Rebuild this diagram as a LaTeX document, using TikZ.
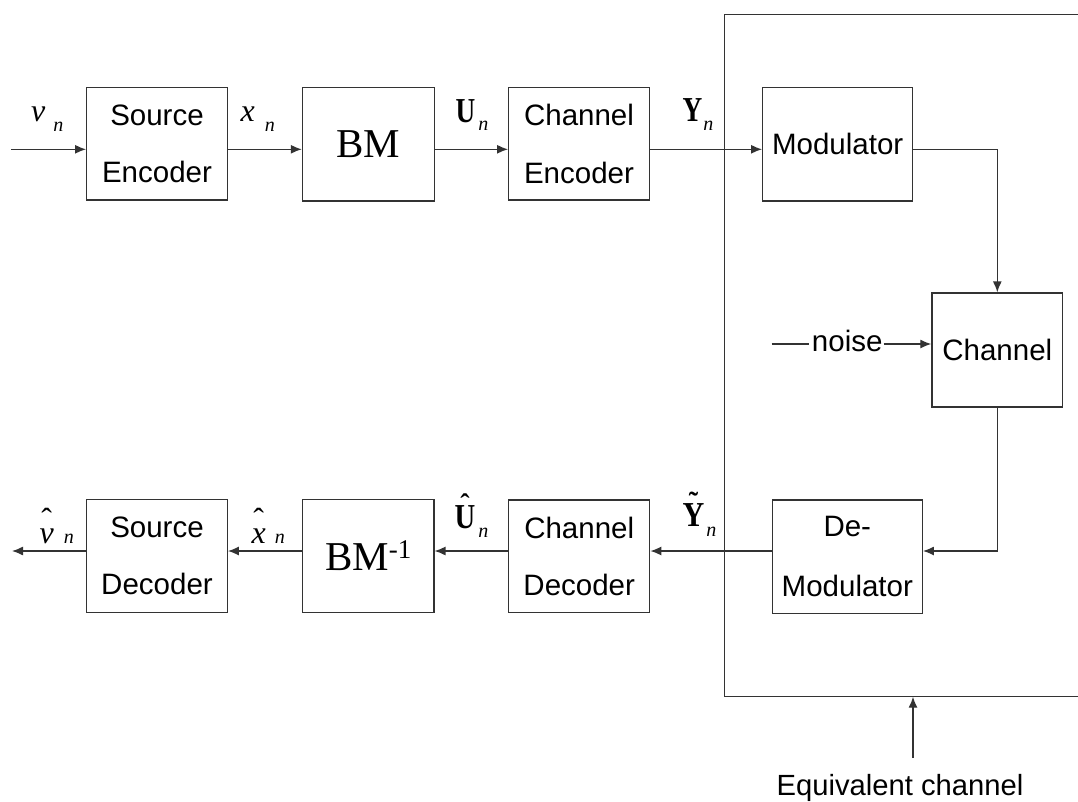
\documentclass[tikz,border=0pt]{standalone}
\usepackage{fontspec}
\setmainfont{Liberation Serif}
\setsansfont{Liberation Sans}
\usetikzlibrary{arrows.meta}

% block text and symbol sizes (1pt = 1 unit of the drawing)
\newcommand\blkfont{\sffamily\fontsize{29.5}{57.5}\selectfont}
\newcommand\symfont{\fontsize{32}{32}\selectfont}
\newcommand\bsymfont{\fontsize{35}{35}\selectfont}
% lowered italic subscript n
\newcommand\subn[1]{\raisebox{#1}{\fontsize{20}{20}\selectfont\itshape n}}
% put an accent #2 above the glyph #1, lifted by #3
\newcommand\accon[3]{\leavevmode\setbox0\hbox{#1}\rlap{\hbox to\wd0{\hss\raisebox{#3}{#2}\hss}}\box0}
% narrowed bold capital
\newcommand\nbold[2]{\scalebox{#1}[1]{\bfseries\bsymfont #2}}

\begin{document}
\begin{tikzpicture}[x=1pt,y=-1pt,
  blk/.style={draw=black!80, line width=1.3pt, inner sep=0pt, align=center,
              font=\blkfont, text=black},
  wire/.style={draw=black!80, line width=1.3pt},
  arr/.style={wire, -{Latex[length=11pt,width=9pt]}},
  lbl/.style={inner sep=0pt, anchor=base west, font=\symfont}]
\useasboundingbox (0,0) rectangle (1078,801);

% levels of the forward and return paths
\coordinate (in)  at (11,149.3);
\coordinate (out) at (12,551);

% forward chain
\node[blk, minimum width=140.6pt, minimum height=112.7pt] (se) at (157,143.7) {Source\\Encoder};
\node[blk, minimum width=131.7pt, minimum height=113.7pt, font=\fontsize{41}{41}\selectfont] (bm) at (368.3,144.2) {BM};
\node[blk, minimum width=140.6pt, minimum height=112.7pt] (ce) at (579,143.7) {Channel\\Encoder};
\node[blk, minimum width=150pt, minimum height=113.3pt] (mod) at (837.7,144.3) {Modulator};
\node[blk, minimum width=130.7pt, minimum height=114pt] (ch) at (997.3,350) {Channel};

% return chain
\node[blk, minimum width=150pt, minimum height=113.3pt, font=\sffamily\fontsize{29.5}{60}\selectfont] (dm) at (847.3,556.7) {De-\\Modulator};
\node[blk, minimum width=141pt, minimum height=112.7pt] (cd) at (579.2,556.4) {Channel\\Decoder};
\node[blk, minimum width=131.2pt, minimum height=113.4pt, font=\fontsize{41}{41}\selectfont] (bmi) at (368.3,556)
  {BM\raisebox{12pt}{\fontsize{27}{27}\selectfont -1}};
\node[blk, minimum width=140.5pt, minimum height=113.4pt] (sd) at (157,556) {Source\\Decoder};

% equivalent channel frame, open to the right
\coordinate (tl) at (724.3,14.7);
\coordinate (bl) at (724.3,696.7);
\coordinate (tr) at (1095,14.7);
\coordinate (br) at (1095,696.7);
\draw[wire] (tr) -- (tl) -- (bl) -- (br);

% forward connections
\draw[arr] (in) -- (in -| se.west);
\draw[arr] (se.east |- in) -- (bm.west |- in);
\draw[arr] (bm.east |- in) -- (ce.west |- in);
\draw[arr] (ce.east |- in) -- (mod.west |- in);
\draw[arr] (mod.east |- in) -- (in -| ch) -- (ch.north);

% noise input
\node[inner sep=0pt, anchor=base, font=\blkfont] (noise) at (847.2,351.7) {noise};
\coordinate (nz) at (771.7,344);
\draw[wire] (nz) -- ([xshift=-2.5pt]noise.west |- nz);
\draw[arr] ([xshift=1pt]noise.east |- nz) -- (nz -| ch.west);

% return connections
\draw[arr] (ch.south) -- (ch.south |- out) -- (dm.east |- out);
\draw[arr] (dm.west |- out) -- (cd.east |- out);
\draw[arr] (cd.west |- out) -- (bmi.east |- out);
\draw[arr] (bmi.west |- out) -- (sd.east |- out);
\draw[arr] (sd.west |- out) -- (out);

% signal labels, forward path
\node[lbl] (lv) at (31,121.7) {\itshape v\hspace{8pt}\subn{-10pt}};
\node[lbl] (lx) at (240.5,121.7) {\itshape x\hspace{10pt}\subn{-10pt}};
\node[lbl] (lu) at (455.5,122.7) {\nbold{0.78}{U}\hspace{3pt}\subn{-8pt}};
\node[lbl] (ly) at (682.5,121.7) {\nbold{0.78}{Y}\hspace{1pt}\subn{-9pt}};

% signal labels, return path
\node[lbl] (lvh) at (39.5,543) {\accon{\itshape v}{\char"02C6}{13pt}\hspace{10pt}\subn{0pt}};
\node[lbl] (lxh) at (251.5,543) {\accon{\itshape x}{\char"02C6}{13pt}\hspace{9pt}\subn{0pt}};
\node[lbl] (luh) at (454.5,528.3) {\accon{\nbold{0.82}{U}}{\bfseries\fontsize{28}{28}\selectfont\char"02C6}{15pt}\hspace{3pt}\subn{-9pt}};
\node[lbl] (lyt) at (682.5,526.7) {\accon{\nbold{0.86}{Y}}{\bfseries\fontsize{28}{28}\selectfont\char"02DC}{15pt}\hspace{2pt}\subn{-9.5pt}};

% pointer to the frame
\node[inner sep=0pt, anchor=base, font=\sffamily\fontsize{29.2}{30}\selectfont] (eq) at (900,795) {Equivalent channel};
\coordinate (eqtop) at (913,758);
\draw[arr] (eqtop) -- (eqtop |- bl);
\end{tikzpicture}
\end{document}
